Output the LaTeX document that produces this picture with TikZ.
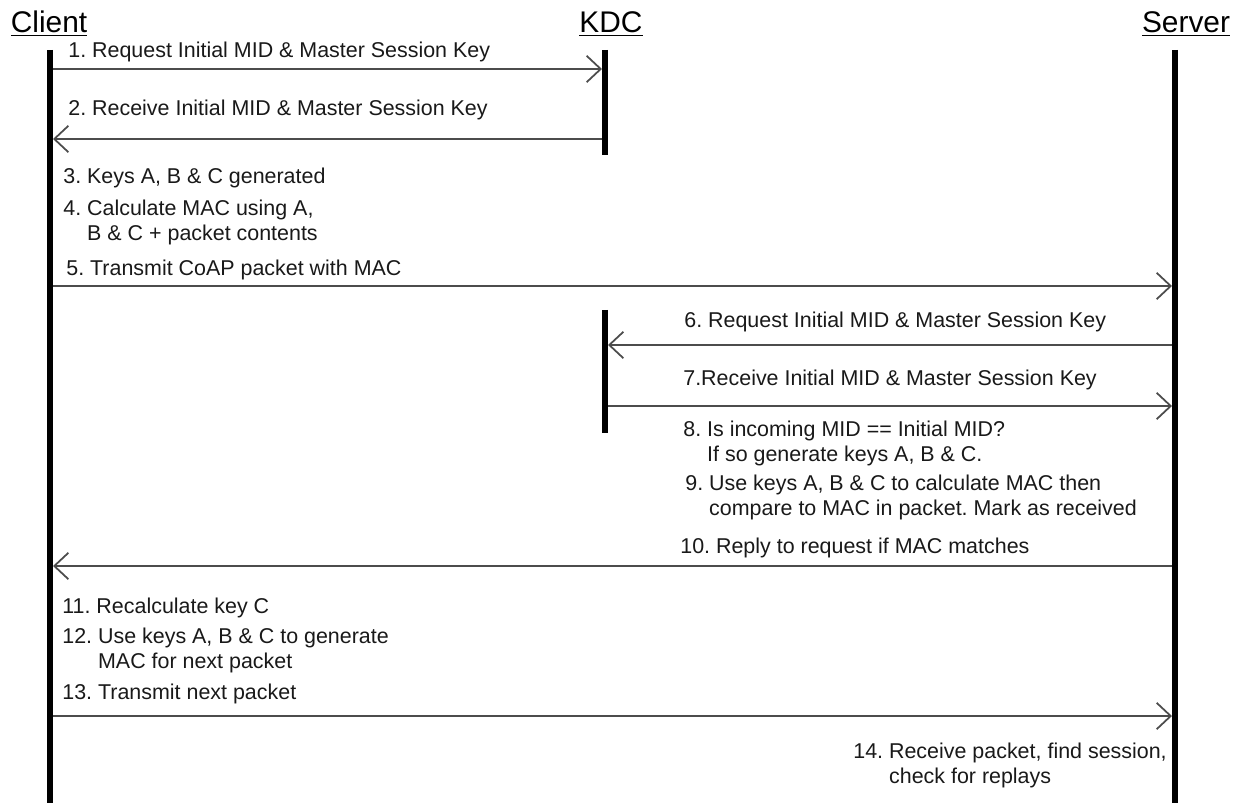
\documentclass[tikz,border=0pt]{standalone}
\usepackage{fontspec}
\setmainfont{Liberation Sans}
\usetikzlibrary{arrows.meta}
\frenchspacing

\begin{document}
\begin{tikzpicture}[x=0.02cm, y=-0.02cm,
  life/.style={line width=3.4pt},
  msg/.style={draw=black!70, line width=1pt, -{Straight Barb[length=8pt,width=15pt]}},
  lbl/.style={anchor=west, inner sep=0pt, align=left, text=black!90, font=\fontsize{12.2}{14.2}\selectfont},
  head/.style={inner sep=0pt, font=\fontsize{17}{20}\selectfont}]
  % page frame (pixel units, y downwards)
  \useasboundingbox (0,0) rectangle (1233,803);
  % heads
  \node[head] (client) at (49,24) {\underline{Client}};
  \node[head] (kdc) at (611,24) {\underline{KDC}};
  \node[head] (server) at (1186,24) {\underline{Server}};
  % lifelines
  \coordinate (ctop) at (50,50);
  \coordinate (cbot) at (50,803);
  \coordinate (stop) at (1175,50);
  \coordinate (sbot) at (1175,803);
  \coordinate (ktopA) at (605,50);
  \coordinate (kbotA) at (605,155);
  \coordinate (ktopB) at (605,310);
  \coordinate (kbotB) at (605,433);
  \draw[life] (ctop) -- (cbot);
  \draw[life] (stop) -- (sbot);
  \draw[life] (ktopA) -- (kbotA);
  \draw[life] (ktopB) -- (kbotB);
  % message ends on the lifelines
  \coordinate (c1) at (53,69);    \coordinate (k1) at (602,69);
  \coordinate (k2) at (602,139);  \coordinate (c2) at (53,139);
  \coordinate (c5) at (53,286);   \coordinate (s5) at (1172,286);
  \coordinate (s6) at (1172,345); \coordinate (k6) at (608,345);
  \coordinate (k7) at (608,406);  \coordinate (s7) at (1172,406);
  \coordinate (s10) at (1172,566); \coordinate (c10) at (53,566);
  \coordinate (c13) at (53,716);  \coordinate (s13) at (1172,716);
  % messages
  \draw[msg] (c1) -- (k1);
  \draw[msg] (k2) -- (c2);
  \draw[msg] (c5) -- (s5);
  \draw[msg] (s6) -- (k6);
  \draw[msg] (k7) -- (s7);
  \draw[msg] (s10) -- (c10);
  \draw[msg] (c13) -- (s13);
  % labels
  \node[lbl] (m1) at (68,52) {1. Request Initial MID \& Master Session Key};
  \node[lbl] (m2) at (68,110) {2. Receive Initial MID \& Master Session Key};
  \node[lbl] (m3) at (63,178) {3. Keys A, B \& C generated};
  \node[lbl] (m4) at (63,222) {4. Calculate MAC using A,\\\phantom{4. }B \& C + packet contents};
  \node[lbl] (m5) at (66,270) {5. Transmit CoAP packet with MAC};
  \node[lbl] (m6) at (684,322) {6. Request Initial MID \& Master Session Key};
  \node[lbl] (m7) at (683,380) {7.Receive Initial MID \& Master Session Key};
  \node[lbl] (m8) at (683,443) {8. Is incoming MID == Initial MID?\\\phantom{8. }If so generate keys A, B \& C.};
  \node[lbl] (m9) at (685,497) {9. Use keys A, B \& C to calculate MAC then\\\phantom{9. }compare to MAC in packet. Mark as received};
  \node[lbl] (m10) at (680,548) {10. Reply to request if MAC matches};
  \node[lbl] (m11) at (62,608) {11. Recalculate key C};
  \node[lbl] (m12) at (62,650) {12. Use keys A, B \& C to generate\\\phantom{12. }MAC for next packet};
  \node[lbl] (m13) at (62,694) {13. Transmit next packet};
  \node[lbl] (m14) at (853,765) {14. Receive packet, find session,\\\phantom{14. }check for replays};
\end{tikzpicture}
\end{document}
